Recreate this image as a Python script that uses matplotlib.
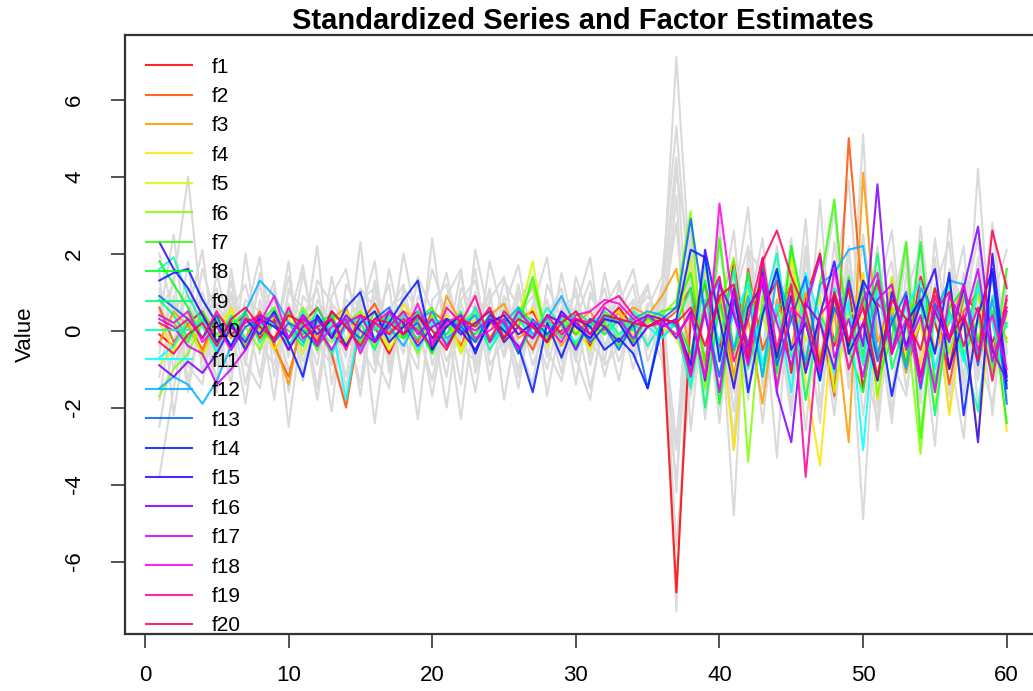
import numpy as np
import matplotlib
matplotlib.use('Agg')
import matplotlib.pyplot as plt
from matplotlib.colors import hsv_to_rgb

plt.rcParams['font.family'] = ['Liberation Sans', 'DejaVu Sans']
plt.rcParams['axes.unicode_minus'] = False

# time index
t = list(range(1, 61))

# estimated factors f1..f20
f1 = [-0.1,-0.4,0.2,0.5,-0.3,0.1,0.4,-0.2,0.3,-0.5,0.2,0.6,-0.1,-0.4,0.3,0.1,-0.6,0.2,0.5,-0.2,0.1,0.4,-0.3,0.2,-0.1,0.3,0.5,-0.2,0.0,0.3,-0.4,0.2,0.6,0.1,0.3,0.2,-6.8,0.4,1.2,-0.5,1.8,-0.9,0.6,1.3,-1.1,0.8,2.0,-0.4,1.1,-1.5,0.7,0.3,-0.8,1.4,0.2,-1.0,0.9,0.5,-0.3,0.6]
f2 = [0.6,-0.3,0.2,-0.5,0.4,0.1,-0.2,0.5,-0.4,-1.2,0.3,0.1,-0.6,-2.0,0.2,0.7,-0.1,0.4,-0.3,0.5,0.2,-0.4,0.6,-0.2,0.3,0.1,-0.5,0.4,0.2,-0.1,0.3,0.0,0.5,-0.3,0.4,0.2,0.5,1.1,-0.8,0.9,-1.3,1.6,-0.5,0.4,1.2,-0.9,0.3,-1.7,5.0,0.6,-0.7,1.3,-1.0,0.2,0.9,-1.4,0.5,1.0,-0.6,0.8]
f3 = [-0.3,0.5,0.1,-0.6,0.3,-0.2,0.4,0.0,-0.3,-1.4,0.5,-0.2,0.3,0.6,-0.4,0.2,-0.1,0.5,0.3,-0.6,0.9,0.2,-0.3,0.4,0.7,-0.2,0.1,0.3,-0.4,0.2,0.5,-0.1,0.3,0.6,0.4,0.9,1.6,-0.8,0.7,1.4,-1.2,0.3,-1.9,0.8,-0.4,1.0,-0.7,0.5,-2.9,4.1,-0.3,0.6,-1.1,0.9,-0.5,0.2,1.2,-0.8,0.4,-0.2]
f4 = [0.2,-0.5,0.4,0.1,-0.3,0.6,-0.2,0.3,-0.5,0.1,0.4,-0.3,0.2,0.5,-0.1,0.3,-0.4,0.7,0.1,-0.2,0.4,-0.5,0.3,0.2,-0.3,0.1,0.6,-0.2,0.4,0.0,-0.3,0.2,0.5,-0.1,0.3,0.1,-0.2,-1.1,1.6,0.5,-3.1,0.8,1.2,-0.6,1.9,-1.3,-3.5,0.7,-0.4,1.5,-1.8,0.6,0.2,-0.9,1.1,-2.2,0.4,-2.8,0.9,-2.6]
f5 = [-0.9,-0.5,0.3,-0.7,0.2,0.5,-0.4,0.1,-0.2,0.4,-0.6,0.3,0.0,-0.3,0.5,0.2,-0.5,0.1,0.4,-0.2,0.3,-0.6,0.2,0.5,-0.1,0.3,1.8,-0.4,0.2,0.1,-0.5,0.4,-0.2,0.3,0.5,0.2,-0.1,1.9,-1.0,0.6,-1.4,1.2,0.4,-0.8,2.1,-0.3,0.9,-1.6,0.5,0.3,-1.2,1.4,-0.7,0.2,-2.0,0.8,-0.5,1.0,-1.3,0.4]
f6 = [-1.7,-1.0,-0.6,0.2,-0.4,0.3,0.1,-0.5,0.4,-0.2,0.6,0.0,-0.3,0.2,0.5,-0.4,0.3,0.1,-0.6,0.4,-0.1,0.2,0.5,-0.3,0.1,0.4,1.2,-0.2,0.3,-0.4,0.2,0.1,-0.3,0.5,0.2,0.4,0.8,3.1,-1.5,0.6,1.9,-3.4,0.9,-0.7,1.3,0.2,-1.1,0.8,-0.4,1.0,-1.7,0.6,0.3,-3.2,1.1,-0.6,0.9,-0.2,0.7,-0.3]
f7 = [0.4,0.2,-0.3,0.5,-0.1,0.3,-0.4,0.2,0.6,-0.2,0.1,-0.5,0.4,0.2,-0.3,0.5,0.0,-0.2,0.3,0.6,-0.4,0.1,0.2,-0.3,0.5,0.1,1.4,-0.2,0.4,-0.1,0.3,0.2,-0.4,0.1,0.3,0.5,0.6,1.5,-0.9,2.4,-0.6,0.7,1.1,-1.4,0.5,-0.8,1.2,3.4,-0.6,0.9,-1.3,-0.2,2.3,-2.8,0.6,1.0,-0.7,0.3,-1.1,1.6]
f8 = [1.8,1.2,0.6,-0.2,0.4,-0.5,0.3,0.1,-0.3,0.5,-0.1,0.2,0.4,-0.4,0.3,0.0,0.5,-0.2,0.1,-0.6,0.3,0.2,-0.1,0.4,-0.3,0.6,0.2,-0.1,0.3,-0.4,0.1,0.5,0.2,-0.3,0.4,0.1,0.3,-0.6,1.3,-1.9,0.8,-0.4,1.7,-1.1,2.2,0.3,-0.8,1.0,-0.5,-1.6,1.2,0.2,-0.9,2.3,-1.4,0.6,1.1,-0.3,0.5,-2.4]
f9 = [0.8,0.4,-0.2,0.3,-0.6,0.1,0.5,-0.3,0.2,0.0,-0.4,0.6,-0.1,0.3,0.2,-0.5,0.4,0.1,-0.2,0.3,-0.1,0.5,-0.3,0.2,0.4,-0.6,0.1,0.3,-0.2,0.5,0.2,-0.1,0.3,0.0,0.4,-0.2,0.2,1.1,-2.0,0.7,-0.5,1.5,-1.2,0.6,0.9,-1.8,0.4,-0.3,1.4,-0.7,2.0,-1.0,0.3,0.8,-2.2,0.5,-0.4,1.3,-0.9,0.2]
f10 = [1.6,1.9,0.9,0.2,-0.3,0.4,-0.2,0.1,0.5,-0.4,0.2,0.3,-0.6,0.1,0.4,-0.2,0.3,-0.1,0.5,0.0,-0.3,0.2,0.4,-0.5,0.1,0.3,-0.2,0.6,0.1,-0.3,0.2,0.4,-0.1,0.3,-0.4,0.2,0.1,-1.5,0.8,-0.3,1.6,-1.0,0.5,2.0,-0.7,0.2,-1.3,1.1,0.6,-0.9,1.4,-0.4,0.8,-1.5,0.3,1.2,-0.6,-2.1,0.9,0.1]
f11 = [-0.7,-0.4,0.3,0.1,-0.5,0.2,-0.3,0.4,0.1,-0.2,0.5,-0.4,0.2,-1.8,0.3,0.1,-0.2,0.4,-0.5,0.2,0.3,-0.1,0.6,-0.3,0.0,0.4,-0.2,0.1,0.3,-0.5,0.2,0.4,-0.3,0.5,0.1,-0.2,0.3,-1.3,1.9,-0.6,0.4,1.2,-0.9,0.7,-1.6,1.5,0.3,-1.1,0.8,-3.1,1.0,-0.5,0.6,1.3,-1.0,0.4,-0.8,1.1,0.2,-1.4]
f12 = [-1.5,-1.2,-1.4,-1.9,-1.3,-0.4,0.5,1.3,0.9,0.2,-0.3,0.4,-0.1,0.3,-0.5,0.2,0.1,-0.4,0.3,0.5,-0.2,0.1,0.4,-0.3,0.2,0.6,-0.1,0.3,0.9,0.1,-0.2,0.4,0.2,0.3,0.5,0.4,0.1,-1.0,0.6,1.3,-0.5,0.9,-1.2,1.5,0.3,-0.8,1.2,1.5,2.1,2.2,-0.6,0.4,-1.0,1.1,0.5,1.3,1.2,-0.7,0.8,-1.3]
f13 = [0.9,0.6,0.3,-0.2,0.4,-0.5,0.1,0.3,-0.3,0.2,0.0,-0.4,0.5,0.1,-0.2,0.3,0.6,-0.1,0.2,-0.5,0.3,0.1,-0.3,0.4,0.2,-0.6,0.3,-0.1,0.4,0.2,-0.3,0.1,-0.5,0.2,-1.5,0.3,0.6,2.9,0.4,-1.2,0.8,-0.5,1.6,-0.9,0.3,1.4,-1.1,0.6,-0.3,1.2,-0.8,0.2,1.0,-1.5,0.7,-0.2,1.1,-0.9,1.5,-1.9]
f14 = [1.3,1.5,1.6,0.8,0.2,-0.4,0.3,-0.1,0.5,-0.3,-1.2,0.4,-0.2,0.6,1.0,-0.3,0.2,0.8,1.3,-0.5,0.1,0.4,-0.6,0.3,0.0,-0.4,-1.6,0.2,-0.7,0.3,0.1,-0.5,-0.2,-0.6,-1.5,0.1,0.3,2.1,1.9,-0.8,1.1,-1.6,0.4,1.6,-0.5,0.2,-1.3,0.9,-0.4,1.3,0.6,-1.7,0.2,0.8,-0.6,1.5,-2.2,0.4,1.6,-1.5]
f15 = [2.3,1.6,1.1,0.4,-0.3,0.2,-0.5,0.3,0.1,-0.2,0.4,-0.1,0.3,-0.4,0.2,0.5,-0.3,0.1,0.4,-0.2,0.3,0.0,-0.5,0.2,0.4,-0.1,0.2,-0.3,0.5,0.1,-0.2,0.3,0.2,-0.4,0.1,0.3,0.2,-0.9,2.1,0.3,-1.5,0.6,1.2,-0.7,0.9,-1.1,0.4,1.8,-0.6,0.2,-1.3,1.0,-0.4,0.7,1.6,-1.0,0.3,-2.9,2.0,-1.2]
f16 = [-0.9,-1.2,-0.8,-1.1,-0.6,0.1,-0.3,0.4,0.2,-0.5,0.1,0.3,-0.2,0.4,0.0,-0.3,0.5,0.2,-0.4,0.1,0.3,-0.1,0.2,0.5,-0.3,0.1,-0.2,0.4,0.2,-0.5,0.3,0.1,-0.3,0.2,0.4,0.3,-0.2,0.5,-1.3,1.2,0.4,-0.8,1.5,-1.6,-2.9,0.7,0.2,-1.0,1.3,-0.4,3.8,-0.6,0.9,-1.2,0.5,-0.3,1.1,2.7,-0.5,-1.3]
f17 = [0.3,0.1,-0.4,-0.6,-1.4,-1.0,-0.5,0.2,0.4,-0.2,0.3,0.1,-0.5,0.2,0.4,-0.3,0.1,0.5,-0.1,0.3,-0.4,0.2,0.0,0.3,-0.2,0.5,0.1,-0.3,0.4,0.2,-0.1,0.6,0.3,-0.2,0.4,0.1,0.3,-1.1,0.5,-1.6,1.0,-0.4,1.4,0.2,-0.9,0.6,1.9,-0.7,0.3,-1.2,0.8,1.2,-0.5,0.4,-1.6,0.9,0.2,1.6,-0.8,0.5]
f18 = [0.4,0.2,0.5,-0.3,0.1,-0.5,0.3,0.2,0.9,-0.2,0.4,-0.4,0.1,0.3,-0.6,0.2,0.5,-0.1,0.7,-0.3,0.2,0.4,-0.2,0.0,0.3,-0.5,0.2,0.1,-0.3,0.4,0.5,0.8,0.7,0.3,0.1,0.2,-0.1,0.4,-1.2,3.3,0.5,-0.9,1.4,-1.5,0.6,0.2,-1.1,1.6,-0.3,0.8,1.5,-0.6,0.3,-1.4,0.9,-0.2,1.2,-0.5,0.4,-1.0]
f19 = [0.2,0.0,0.3,-0.2,0.5,-0.1,0.2,0.4,-0.3,0.6,-0.2,0.1,0.3,-0.5,0.4,0.2,-0.1,0.3,0.0,-0.4,0.6,0.2,0.9,-0.3,0.5,0.1,-0.2,0.4,-0.1,0.3,0.2,0.7,0.9,0.4,0.1,0.3,0.2,-1.2,0.6,1.4,-0.8,0.3,1.9,-0.5,1.2,-3.8,0.4,0.9,-1.0,0.2,1.3,-0.6,0.8,-1.2,0.5,1.0,-0.4,0.6,-1.3,0.9]
f20 = [-0.3,-0.6,-0.1,0.2,-0.4,0.3,0.6,0.1,-0.2,0.4,0.2,-0.3,0.5,0.1,-0.4,0.3,0.2,-0.1,0.4,0.0,-0.5,0.3,0.1,0.6,-0.2,0.3,0.1,-0.3,0.2,0.5,-0.1,0.4,0.3,0.2,0.1,0.3,0.2,0.6,-0.4,0.9,1.2,-0.7,1.8,2.6,1.4,0.5,-0.9,1.0,-0.3,0.6,-1.2,0.8,0.3,-0.5,1.1,-0.2,0.4,-0.8,2.6,1.1]

# standardized input series (grey background)
s1 = [-3.8,-1.5,0.6,0.2,-0.8,0.4,-0.3,1.2,-0.6,0.3,-1.1,0.8,0.2,-0.5,1.0,-0.7,0.4,-1.3,0.6,0.1,-0.4,1.5,-0.9,0.3,0.7,-1.2,0.5,-0.2,0.9,-0.6,0.2,1.1,-0.4,0.6,-0.3,0.8,7.1,1.2,-2.3,0.8,-4.8,2.1,1.5,-0.6,2.4,-1.8,0.9,3.1,-1.2,5.1,-2.0,0.7,1.8,-2.6,1.1,2.3,-1.4,4.2,-0.8,1.6]
s2 = [0.5,1.2,4.0,0.3,-1.6,0.9,-0.4,0.6,-1.8,1.1,0.2,-0.9,1.4,-0.3,0.7,-2.4,0.5,1.2,-0.6,0.3,-2.0,0.8,1.3,-0.5,0.2,-1.0,0.6,1.9,-0.8,0.4,-1.5,0.2,0.9,-0.7,0.3,0.5,-7.3,2.0,-1.1,0.6,-2.8,1.7,-0.9,2.2,-1.3,0.4,-2.4,1.6,0.8,-4.9,1.3,-0.7,2.0,-1.6,0.5,-2.1,1.2,-0.4,2.8,-0.9]
s3 = [-1.2,0.8,-0.5,1.6,0.3,-1.4,2.0,-0.6,0.9,-2.5,0.4,1.1,-0.8,0.5,-1.7,0.9,0.2,-0.4,1.3,-0.9,0.6,-1.4,2.1,0.3,-0.6,1.0,-0.3,0.4,-1.1,1.4,0.2,-0.5,0.7,1.6,-0.4,0.9,4.5,-1.2,1.6,-2.0,0.7,3.2,-1.5,0.4,-2.2,1.9,-0.6,1.1,3.9,-0.8,-2.3,1.4,0.6,-1.9,2.4,-0.5,-2.8,1.5,0.3,-1.7]
s4 = [0.9,-0.7,1.8,-1.1,0.6,0.2,-1.9,0.8,-0.3,1.4,-0.8,0.3,-2.1,1.2,0.5,-0.6,1.6,-0.2,-1.0,2.4,-0.5,0.7,-0.3,1.1,-1.8,0.4,0.9,-0.7,1.5,-0.2,0.6,-1.2,0.3,0.8,-0.5,1.2,-4.2,2.6,-0.8,1.3,-3.1,0.5,2.4,-1.2,0.8,-2.6,1.3,-0.4,2.2,-1.6,0.9,2.6,-1.1,0.4,-3.0,1.6,0.7,-1.3,1.9,-0.6]
s5 = [1.5,-2.2,0.3,0.9,-0.4,1.3,-0.8,-1.5,0.6,0.2,1.7,-0.6,0.4,-1.2,0.8,1.1,-0.9,0.5,-0.3,1.6,0.4,-2.3,0.7,-0.4,1.3,0.6,-0.9,0.2,0.8,-1.4,1.0,0.4,-0.8,0.3,1.1,-0.2,3.5,-2.6,1.2,0.4,2.6,-1.4,-0.5,1.8,-0.7,2.9,-1.9,0.6,-1.1,2.5,-0.4,-1.6,1.0,2.1,-0.9,0.5,2.2,-2.0,0.8,2.1]
s6 = [-0.6,1.4,-1.3,0.5,1.1,-0.9,0.4,1.9,-1.2,0.7,-0.3,2.2,-1.4,0.6,-0.5,0.3,1.2,-1.6,0.9,0.2,1.5,-0.4,-0.8,1.8,0.3,-1.5,0.7,0.5,-0.2,1.1,-0.9,0.6,1.3,-0.4,0.2,-0.8,-3.9,0.9,-2.1,2.3,-0.6,1.1,-2.4,0.8,1.5,-1.0,3.4,-1.5,0.5,1.2,-2.6,0.9,-0.3,1.7,-1.4,2.9,-0.8,1.0,-2.2,1.3]
s7 = [2.0,0.4,-0.9,-1.4,0.7,0.5,1.2,-0.3,-0.9,1.0,0.6,-1.5,0.9,1.6,-0.4,-1.1,0.6,0.9,-0.7,0.4,-1.2,1.1,0.5,-0.6,0.9,-0.3,-1.4,1.2,0.3,0.6,-0.7,1.5,-0.2,0.4,0.9,0.3,2.8,-1.7,0.5,-1.2,1.8,-0.4,0.9,-3.3,2.0,0.6,-1.2,2.3,-0.5,0.7,1.6,-2.1,0.4,-1.0,1.9,-1.7,0.6,2.4,-1.3,0.5]
s8 = [-2.5,-0.3,1.1,0.4,-1.3,1.6,-0.6,0.2,1.3,-1.6,0.9,0.4,-0.5,-1.9,1.1,0.6,-0.4,2.0,0.1,-1.3,0.7,0.3,-1.6,0.8,1.4,-0.5,0.2,-1.0,0.6,0.9,-0.3,-0.8,1.2,-0.6,0.7,0.4,-2.9,1.5,-0.9,2.8,-1.6,-0.3,1.3,0.6,-1.9,1.2,0.3,-2.2,1.6,-0.5,2.2,-0.8,-1.7,1.1,0.4,-0.9,1.5,-1.1,0.6,-1.8]
s9 = [0.3,2.5,-0.7,1.0,-0.2,-1.1,0.8,0.5,-0.4,1.8,-1.3,0.6,0.3,-0.7,2.3,-0.9,0.4,-0.6,1.4,0.5,-0.8,0.2,1.0,-1.3,0.6,1.7,-0.4,0.8,-0.6,0.3,1.3,-0.4,0.5,-1.0,0.6,1.4,5.3,0.6,1.9,-1.5,0.8,2.2,-0.9,1.4,-1.6,0.4,2.1,-0.9,1.3,-2.2,0.7,1.8,-1.0,2.7,-0.6,1.1,-1.7,0.9,1.4,-0.6]
s10 = [-1.8,0.6,0.9,-0.8,1.5,-0.2,0.5,-1.2,1.1,-0.5,0.3,-1.8,0.7,0.2,-1.4,1.3,-0.7,0.3,-2.3,0.8,1.2,-0.6,0.4,0.9,-0.7,0.5,1.1,-1.7,0.4,-0.8,0.9,0.3,-1.3,0.8,-0.5,0.6,-5.6,-1.0,0.9,-2.4,1.4,-0.8,0.5,-1.7,1.3,-0.6,0.8,-1.8,2.0,-0.9,0.3,-2.4,1.5,-0.7,0.9,-1.5,0.4,-0.6,-1.9,0.8]
s11 = [1.1,-1.0,0.4,2.1,-0.9,0.7,-1.4,0.4,0.8,-0.7,1.5,-0.3,-0.9,0.8,0.4,-0.6,-1.5,1.1,0.5,-0.5,0.9,1.6,-1.1,0.2,-0.4,1.2,-0.6,0.4,1.1,-0.7,-1.8,0.7,0.4,1.2,-0.8,0.3,4.1,1.8,-1.4,0.7,-2.1,1.3,0.6,-1.1,1.7,-0.5,-2.0,1.2,-0.6,1.5,-1.3,0.6,2.3,-0.8,1.2,-0.3,-1.2,1.9,-0.5,1.2]
s12 = [-0.4,0.9,-1.6,0.6,-0.3,1.0,-0.9,1.5,0.3,-1.0,-0.6,1.3,0.7,-1.5,0.4,1.8,-1.1,0.7,0.3,-1.7,0.5,-0.2,1.6,-0.9,-0.2,0.8,1.3,-0.5,-1.3,0.6,1.9,-0.9,-0.4,0.5,1.2,-0.6,-3.1,2.3,-1.6,1.1,0.4,-1.8,1.9,-0.4,-1.1,2.2,-0.8,1.5,-1.5,0.9,-0.2,1.2,-1.5,0.7,-2.1,1.5,0.2,-0.9,1.6,-0.5]

factors = [f1, f2, f3, f4, f5, f6, f7, f8, f9, f10,
           f11, f12, f13, f14, f15, f16, f17, f18, f19, f20]
series = [s1, s2, s3, s4, s5, s6, s7, s8, s9, s10, s11, s12]
labels = ['f' + str(i + 1) for i in range(len(factors))]

# R rainbow(20)
n = len(factors)
cols = [hsv_to_rgb((i / n, 1.0, 1.0)) for i in range(n)]

fig = plt.figure(figsize=(10.33, 6.91), dpi=100)
ax = fig.add_axes([0.1214, 0.0825, 0.886, 0.867])

for s in series:
    ax.plot(t, s, color='#dadada', lw=1.5)
for f, c, lab in zip(factors, cols, labels):
    ax.plot(t, f, color=c, lw=1.5, alpha=0.85, label=lab)

ax.set_xlim(-1.36, 62.36)
ax.set_ylim(-7.88, 7.68)
ax.set_xticks(range(0, 61, 10))
ax.set_yticks(range(-6, 7, 2))
ax.tick_params(labelsize=16, length=10, width=1.3, color='#444444')
ax.tick_params(axis='x', pad=12)
ax.tick_params(axis='y', pad=19)
for lab in ax.get_yticklabels():
    lab.set_rotation(90)
    lab.set_va('center')
for sp in ax.spines.values():
    sp.set_linewidth(1.6)
    sp.set_color('#333333')

ax.set_ylabel('Value', fontsize=16, labelpad=20)
ax.set_title('Standardized Series and Factor Estimates', fontsize=21,
             fontweight='bold', pad=4)

ax.legend(loc='upper left', bbox_to_anchor=(0.0, 0.997), frameon=False,
          fontsize=15, handlelength=2.2, handletextpad=0.95, labelspacing=0.5,
          borderaxespad=0.6)

fig.savefig('out.png', dpi=100)
